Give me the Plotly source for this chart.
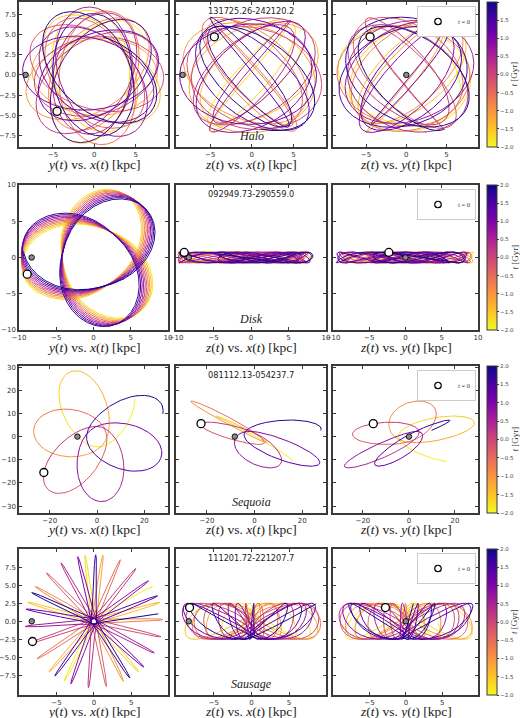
import numpy as np
import plotly.graph_objects as go
from plotly.colors import sample_colorscale

# ---------------- data ----------------
star_ids = ["131725.26-242120.2", "092949.73-290559.0", "081112.13-054237.7", "111201.72-221207.7"]
populations = ["Halo", "Disk", "Sequoia", "Sausage"]

# present-day (t = 0) Galactocentric positions of the stars [kpc]
star_x = [-4.5, -8.9, -22.5, -8.2]
star_y = [-4.5, -2.3, -15.5, -2.8]
star_z = [4.7, 0.7, 5.6, 1.9]

# Sun position [kpc]
sun_x, sun_y, sun_z = -8.3, 0.0, 0.0

# orbital elements
peri_kpc = [7.3, 4.2, 4.5, 0.4]
apo_kpc = [8.7, 9.7, 31.0, 9.2]
radial_period_gyr = [0.16, 0.133, 0.68, 0.125]
radial_skew = [0.1, 0.45, 0.7, 0.35]
apsidal_step_deg = [250.0, -241.0, 290.0, 213.0]
inclination_deg = [55.0, 0.0, 150.0, 0.0]
node_rate_deg_gyr = [160.0, 0.0, -22.5, 0.0]
z_amp_kpc = [0.0, 0.75, 0.0, 2.5]
z_period_gyr = [0.0, 0.09, 0.0, 0.1262]
radial_branch = [1, 1, -1, 1]
plane_branch = [0, 0, 0, 0]
z_branch = [1, 1, 1, 1]
pts_per_period = [300, 250, 700, 350]

t_min, t_max = -2.0, 2.0

# axes (per row)
x_ranges = [[-9.1, 8.9], [-10, 10], [-33, 30], [-10, 9.9]]
y_ranges = [[-8.9, 9.0], [-10, 10], [-33, 30.5], [-10.2, 10]]
x_ticks = [[-5, 0, 5], [-10, -5, 0, 5, 10], [-20, 0, 20], [-5, 0, 5]]
y_ticks = [[-7.5, -5, -2.5, 0, 2.5, 5, 7.5], [-10, -5, 0, 5, 10],
           [-30, -20, -10, 0, 10, 20, 30], [-7.5, -5, -2.5, 0, 2.5, 5, 7.5]]
y_tickformats = [".1f", "d", "d", ".1f"]
cbar_ticks = [-2.0, -1.5, -1.0, -0.5, 0.0, 0.5, 1.0, 1.5, 2.0]
panel_titles = ["<i>y</i>(<i>t</i>) vs. <i>x</i>(<i>t</i>) [kpc]",
                "<i>z</i>(<i>t</i>) vs. <i>x</i>(<i>t</i>) [kpc]",
                "<i>z</i>(<i>t</i>) vs. <i>y</i>(<i>t</i>) [kpc]"]


def orbit(k):
    T = radial_period_gyr[k]
    eps = radial_skew[k]
    x0, y0, z0 = star_x[k], star_y[k], star_z[k]
    inc = np.radians(inclination_deg[k])
    rm = 0.5 * (peri_kpc[k] + apo_kpc[k])
    ra = 0.5 * (apo_kpc[k] - peri_kpc[k])
    cyl = z_amp_kpc[k] > 0
    r0 = np.hypot(x0, y0) if cyl else np.sqrt(x0**2 + y0**2 + z0**2)
    eta0 = radial_branch[k] * np.arccos(np.clip((rm - r0) / ra, -1, 1))
    m0 = eta0 - eps * np.sin(eta0)
    n_per = 2.0 * (t_max + 0.05) / T + 2.0
    npts = int(n_per * pts_per_period[k]) // 2
    span = np.pi * n_per
    eta = eta0 + np.linspace(-span, span, 2 * npts + 1)
    t = T / (2 * np.pi) * ((eta - eps * np.sin(eta)) - m0)
    keep = (t >= t_min) & (t <= t_max)
    eta, t = eta[keep], t[keep]
    r = rm - ra * np.cos(eta)
    ee = np.linspace(0, 2 * np.pi, 4001)
    I1 = np.trapezoid((1 - eps * np.cos(ee)) / (rm - ra * np.cos(ee))**2, ee)
    A = np.radians(apsidal_step_deg[k]) / I1
    g = A * (1 - eps * np.cos(eta)) / r**2
    cum = np.concatenate([[0.0], np.cumsum(0.5 * (g[1:] + g[:-1]) * np.diff(eta))])
    cum -= cum[np.argmin(np.abs(t))]
    if cyl:
        inc = 0.0
        psi0 = np.arctan2(y0, x0)
        n0 = 0.0
        chi = z_branch[k] * np.arccos(np.clip(z0 / z_amp_kpc[k], -1, 1))
        zosc = z_amp_kpc[k] * np.cos(2 * np.pi * t / z_period_gyr[k] + chi)
    else:
        s = np.clip(z0 / (r0 * np.sin(inc)), -1, 1)
        psi0 = np.arcsin(s) if plane_branch[k] == 0 else np.pi - np.arcsin(s)
        X = r0 * np.cos(psi0)
        Y = r0 * np.sin(psi0) * np.cos(inc)
        n0 = np.arctan2(y0, x0) - np.arctan2(Y, X)
        zosc = 0.0
    psi = psi0 + cum
    node = n0 + np.radians(node_rate_deg_gyr[k]) * t
    Px = r * np.cos(psi)
    Py = r * np.sin(psi) * np.cos(inc)
    Pz = r * np.sin(psi) * np.sin(inc)
    x = Px * np.cos(node) - Py * np.sin(node)
    y = Px * np.sin(node) + Py * np.cos(node)
    z = Pz + zosc
    return t, np.round(x, 3), np.round(y, 3), np.round(z, 3)


W, H = 520, 718
col_px = [(19, 168), (176, 326), (333, 478)]
row_px = [(2, 147), (185, 330), (366, 513), (549, 695)]
title_gap = [18, 17, 16, 16]
cb_px = (487, 497)

fig = go.Figure()
layout = {}
annotations = []
N_BINS = 64
edges = np.linspace(t_min, t_max, N_BINS + 1)
centers = 0.5 * (edges[1:] + edges[:-1])
bin_colors = sample_colorscale("Plasma", list((t_max - centers) / (t_max - t_min)))

FRAME = "#3a3a3a"
TICKFONT = dict(family="DejaVu Sans", size=7, color="#333333")
SERIF = "Liberation Serif"

for row in range(4):
    t, x, y, z = orbit(row)
    views = [(x, y), (x, z), (y, z)]
    sun_views = [(sun_x, sun_y), (sun_x, sun_z), (sun_y, sun_z)]
    star_views = [(star_x[row], star_y[row]), (star_x[row], star_z[row]), (star_y[row], star_z[row])]
    idx = np.searchsorted(t, edges)
    for col in range(3):
        p = row * 3 + col
        xa = "x" if p == 0 else f"x{p + 1}"
        ya = "y" if p == 0 else f"y{p + 1}"
        hx, vy = views[col]
        for b in range(N_BINS):
            i0 = max(idx[b] - 1, 0)
            i1 = min(idx[b + 1] + 1, len(t))
            fig.add_trace(go.Scatter(x=hx[i0:i1], y=vy[i0:i1], mode="lines",
                                     line=dict(color=bin_colors[b], width=1),
                                     xaxis=xa, yaxis=ya, showlegend=False, hoverinfo="skip"))
        fig.add_trace(go.Scatter(x=[sun_views[col][0]], y=[sun_views[col][1]], mode="markers",
                                 marker=dict(size=5.5, color="#8a8a8a", line=dict(color="black", width=0.9)),
                                 xaxis=xa, yaxis=ya, showlegend=False, hoverinfo="skip"))
        fig.add_trace(go.Scatter(x=[star_views[col][0]], y=[star_views[col][1]], mode="markers",
                                 marker=dict(size=8, color="white", line=dict(color="black", width=1.3)),
                                 showlegend=False, xaxis=xa, yaxis=ya, hoverinfo="skip"))
        xkey = "xaxis" if p == 0 else f"xaxis{p + 1}"
        ykey = "yaxis" if p == 0 else f"yaxis{p + 1}"
        layout[xkey] = dict(
            domain=[col_px[col][0] / W, col_px[col][1] / W], anchor=ya, automargin=False,
            range=x_ranges[row], tickvals=x_ticks[row], showgrid=False, zeroline=False,
            showline=True, linecolor=FRAME, linewidth=1.5, mirror="ticks",
            ticks="inside", ticklen=3, tickwidth=1, tickcolor=FRAME, tickfont=TICKFONT)
        layout[ykey] = dict(
            domain=[1 - row_px[row][1] / H, 1 - row_px[row][0] / H], anchor=xa, automargin=False,
            range=y_ranges[row], tickvals=y_ticks[row], tickformat=y_tickformats[row],
            showgrid=False, zeroline=False, showline=True, linecolor=FRAME, linewidth=1.5,
            mirror="ticks", ticks="inside", ticklen=3, tickwidth=1, tickcolor=FRAME,
            tickfont=TICKFONT, showticklabels=(col == 0))
        annotations.append(dict(x=0.5 * (col_px[col][0] + col_px[col][1]) / W,
                                y=1 - (row_px[row][1] + title_gap[row]) / H, xref="paper", yref="paper",
                                text=panel_titles[col], showarrow=False, xanchor="center",
                                yanchor="middle", font=dict(family=SERIF, size=13.5, color="#222222")))

    p3 = row * 3 + 2
    leg = "legend" if row == 0 else f"legend{row + 1}"
    # legend entry for the present-day position
    fig.add_trace(go.Scatter(x=[None], y=[None], mode="markers", name="<i>t</i> = 0",
                             marker=dict(size=6.5, color="white", line=dict(color="black", width=1.2)),
                             legend=leg, showlegend=True, xaxis=f"x{p3 + 1}", yaxis=f"y{p3 + 1}",
                             hoverinfo="skip"))
    # colour bar for the row
    fig.add_trace(go.Scatter(
        x=[None, None], y=[None, None], mode="markers", xaxis=f"x{p3 + 1}", yaxis=f"y{p3 + 1}",
        showlegend=False, hoverinfo="skip",
        marker=dict(size=0.1, opacity=0, color=[t_min, t_max], cmin=t_min, cmax=t_max,
                    colorscale="Plasma_r", showscale=True,
                    colorbar=dict(x=cb_px[0] / W, xanchor="left", xpad=0, ypad=0,
                                  y=1 - 0.5 * (row_px[row][0] + row_px[row][1]) / H, yanchor="middle",
                                  len=(row_px[row][1] - row_px[row][0]) / H, lenmode="fraction",
                                  thickness=cb_px[1] - cb_px[0], thicknessmode="pixels",
                                  outlinewidth=1, outlinecolor=FRAME,
                                  tickvals=cbar_ticks, tickformat=".1f", ticks="outside",
                                  ticklen=2, tickcolor=FRAME,
                                  tickfont=dict(family="DejaVu Sans", size=5.5, color="#444444")))))
    annotations.append(dict(x=514 / W, y=1 - 0.5 * (row_px[row][0] + row_px[row][1]) / H,
                            xref="paper", yref="paper", text="<i>t</i> [Gyr]", textangle=-90,
                            showarrow=False, xanchor="center", yanchor="middle",
                            font=dict(family=SERIF, size=9, color="#333333")))

    layout[leg] = dict(x=476 / W, xanchor="right", y=1 - (row_px[row][0] + 4) / H, yanchor="top",
                       bgcolor="white", bordercolor="#cccccc", borderwidth=1,
                       font=dict(family=SERIF, size=6.5, color="#333333"),
                       itemwidth=30, tracegroupgap=0)

    cx = 0.5 * (col_px[1][0] + col_px[1][1]) / W
    annotations.append(dict(x=cx, y=1 - (row_px[row][0] + 9) / H, xref="paper", yref="paper",
                            text=star_ids[row], showarrow=False, xanchor="center", yanchor="middle",
                            font=dict(family="DejaVu Sans", size=8.2, color="#222222")))
    annotations.append(dict(x=cx, y=1 - (row_px[row][1] - 11) / H, xref="paper", yref="paper",
                            text="<i>" + populations[row] + "</i>", showarrow=False,
                            xanchor="center", yanchor="middle",
                            font=dict(family=SERIF, size=12, color="#222222")))

fig.update_layout(width=W, height=H, margin=dict(l=0, r=0, t=0, b=0),
                  paper_bgcolor="white", plot_bgcolor="white",
                  annotations=annotations, **layout)
fig.write_html("out.html", config={"displayModeBar": False},
               post_script="document.body.style.margin='0px';document.body.style.overflow='hidden';")
